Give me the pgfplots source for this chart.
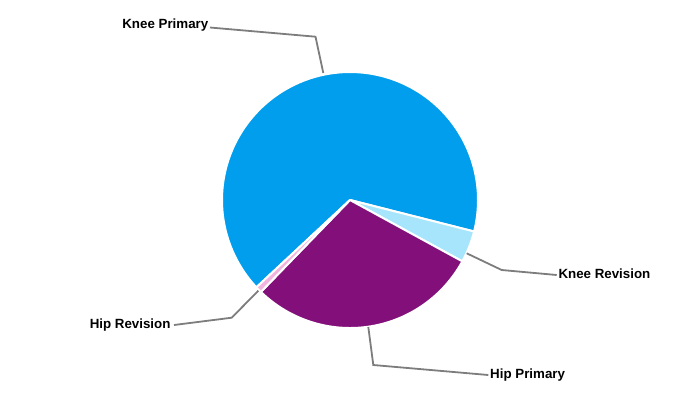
\documentclass[border=0pt]{standalone}
\usepackage{pgfplots}
\pgfplotsset{compat=1.18}
\usepackage{pgfplotstable}
\usepackage{fontspec}
\setmainfont{Liberation Sans}
\definecolor{kp}{RGB}{0,158,236}
\definecolor{kr}{RGB}{166,229,251}
\definecolor{hp}{RGB}{131,16,122}
\definecolor{hr}{RGB}{243,179,223}
\definecolor{lead}{RGB}{125,125,125}
\pgfplotstableread{
label value
KneePrimary 65.9
KneeRevision 4.0
HipPrimary 29.3
HipRevision 0.8
}\piedata
\pgfplotstablegetelem{0}{value}\of\piedata \let\vA\pgfplotsretval
\pgfplotstablegetelem{1}{value}\of\piedata \let\vB\pgfplotsretval
\pgfplotstablegetelem{2}{value}\of\piedata \let\vC\pgfplotsretval
\pgfplotstablegetelem{3}{value}\of\piedata \let\vD\pgfplotsretval
\pgfmathsetmacro{\aA}{223}
\pgfmathsetmacro{\aB}{\aA-\vA*3.6}
\pgfmathsetmacro{\aC}{\aB-\vB*3.6}
\pgfmathsetmacro{\aD}{\aC-\vC*3.6}
\pgfmathsetmacro{\aE}{\aD-\vD*3.6}
\begin{document}
\begin{tikzpicture}
\begin{axis}[x=1pt, y=1pt, xmin=0, xmax=700, ymin=0, ymax=400, y dir=reverse,
  hide axis, clip=false, scale only axis]
\path (axis cs:0,0) rectangle (axis cs:700,400);
\pgfplotsset{slice/.style={draw=white, line width=2pt, line join=round, samples=120, variable=\t}}
\addplot[slice, fill=kp, domain=\aB:\aA] ({350+128*cos(t)},{200-128*sin(t)}) -- (axis cs:350,200) -- cycle;
\addplot[slice, fill=kr, domain=\aC:\aB, samples=20] ({350+128*cos(t)},{200-128*sin(t)}) -- (axis cs:350,200) -- cycle;
\addplot[slice, fill=hp, domain=\aD:\aC] ({350+128*cos(t)},{200-128*sin(t)}) -- (axis cs:350,200) -- cycle;
\addplot[slice, fill=hr, domain=\aE:\aD, samples=8] ({350+128*cos(t)},{200-128*sin(t)}) -- (axis cs:350,200) -- cycle;
% leader lines
\addplot[lead, line width=1.8pt, mark=none] coordinates {(210,27.5) (315.5,36.7) (323.3,73)};
\addplot[lead, line width=1.8pt, mark=none] coordinates {(466.7,253.3) (501.7,270) (556.7,275)};
\addplot[lead, line width=1.8pt, mark=none] coordinates {(368.3,327) (373.3,365) (488.3,375)};
\addplot[lead, line width=1.8pt, mark=none] coordinates {(174,325) (231.7,317.7) (258.3,290.7)};
\begin{scope}[every node/.style={inner sep=0pt, font=\fontsize{13.33}{16}\selectfont\bfseries}]
\node[anchor=base east] at (axis cs:208.5,28.3) {Knee Primary};
\node[anchor=base west] at (axis cs:558.3,278.3) {Knee Revision};
\node[anchor=base west] at (axis cs:490,378.3) {Hip Primary};
\node[anchor=base east] at (axis cs:170.7,328.3) {Hip Revision};
\end{scope}
\end{axis}
\end{tikzpicture}
\end{document}
